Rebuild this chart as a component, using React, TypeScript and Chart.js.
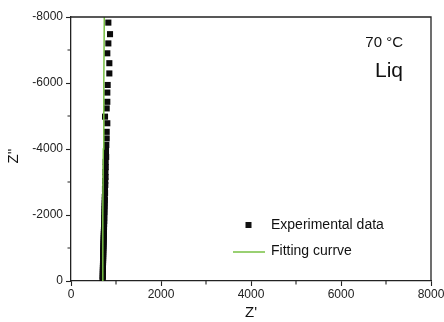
import React, { useEffect, useRef } from 'react';
import { Chart, registerables } from 'chart.js';
Chart.register(...registerables);

// Experimental impedance data (Z', Z'')
const expZre = [
  830, 867, 830, 807, 852, 852, 815, 807, 807, 793, 756, 807, 793, 793,
  785, 778, 782, 770, 772, 765, 768, 760, 762, 755, 757, 750, 752, 746, 748, 742, 744, 740, 738, 739,
  735, 734, 732, 731, 729, 728, 726, 725, 724, 722, 721, 720, 718, 717, 716, 715, 714, 713, 712, 711,
  710, 709, 708, 707, 706, 705, 704, 703,
];
const expZim = [
  -7830, -7480, -7200, -6900, -6600, -6290, -5940, -5710, -5430, -5230, -4980, -4780, -4520, -4320,
  -4120, -3940, -3760, -3610, -3450, -3300, -3150, -3030, -2910, -2790, -2670, -2550, -2450, -2360, -2270, -2180, -2090, -2000, -1910, -1820,
  -1730, -1640, -1550, -1490, -1420, -1360, -1300, -1240, -1180, -1120, -1060, -1000, -940, -880, -820, -760, -700, -640, -580, -520,
  -450, -390, -330, -270, -210, -150, -90, -30,
];
// Fitting curve
const fitZre = [695, 707, 718, 729, 740];
const fitZim = [0, -2000, -4000, -6000, -8000];

const minorTicks = [1000, 3000, 5000, 7000];
const seriesNames = ['Experimental data', 'Fitting currve'];
const axisTitles = ["Z'", "Z''"];
const temperatureLabel = '70 °C';
const sampleLabel = 'Liq';

const FONT = '"Liberation Sans", Arial, sans-serif';
const INK = '#222';
const GREEN = '#77c043';

const overlay = {
  id: 'overlay',
  afterDraw(chart: any) {
    const ctx = chart.ctx;
    const { left, right, top, bottom } = chart.chartArea;
    const xs = chart.scales.x;
    const ys = chart.scales.y;
    ctx.save();
    ctx.strokeStyle = INK;
    ctx.lineWidth = 1.3;
    ctx.beginPath();
    ctx.moveTo(left, top);
    ctx.lineTo(right, top);
    ctx.lineTo(right, bottom);
    ctx.stroke();
    ctx.lineWidth = 1.1;
    ctx.beginPath();
    minorTicks.forEach((v) => {
      const px = xs.getPixelForValue(v);
      ctx.moveTo(px, bottom);
      ctx.lineTo(px, bottom + 3.5);
      const py = ys.getPixelForValue(-v);
      ctx.moveTo(left, py);
      ctx.lineTo(left - 3.5, py);
    });
    ctx.stroke();

    ctx.fillStyle = '#111';
    ctx.textAlign = 'right';
    ctx.textBaseline = 'alphabetic';
    ctx.font = `15px ${FONT}`;
    ctx.fillText(temperatureLabel, 403, 47);
    ctx.font = `21px ${FONT}`;
    ctx.fillText(sampleLabel, 403, 77);

    // legend
    ctx.fillStyle = '#111';
    ctx.fillRect(245.5, 222, 6, 6);
    ctx.strokeStyle = GREEN;
    ctx.lineWidth = 1.5;
    ctx.beginPath();
    ctx.moveTo(233, 252);
    ctx.lineTo(265, 252);
    ctx.stroke();
    ctx.textAlign = 'left';
    ctx.textBaseline = 'middle';
    ctx.font = `14px ${FONT}`;
    ctx.fillText(seriesNames[0], 271, 225);
    ctx.fillText(seriesNames[1], 271, 251);

    // axis titles
    ctx.font = `15px ${FONT}`;
    ctx.textAlign = 'center';
    ctx.fillText(axisTitles[0], (left + right) / 2, 313);
    ctx.save();
    ctx.translate(14, 156);
    ctx.rotate(-Math.PI / 2);
    ctx.fillText(axisTitles[1], 0, 0);
    ctx.restore();
    ctx.restore();
  },
};

export default function App() {
  const ref = useRef<HTMLCanvasElement>(null);
  useEffect(() => {
    document.body.style.margin = '0';
    const canvas = ref.current!;
    const tickFont = { family: FONT, size: 12 };
    const chart = new Chart(canvas, {
      type: 'scatter',
      data: {
        datasets: [
          {
            label: seriesNames[1],
            data: fitZre.map((x, i) => ({ x, y: fitZim[i] })),
            showLine: true,
            borderColor: GREEN,
            borderWidth: 1.5,
            pointRadius: 0,
            order: 0,
          },
          {
            label: seriesNames[0],
            data: expZre.map((x, i) => ({ x, y: expZim[i] })),
            pointStyle: 'rect',
            pointRadius: 4.3,
            backgroundColor: '#0a0a0a',
            borderColor: '#0a0a0a',
            borderWidth: 0,
            order: 1,
          },
        ],
      },
      options: {
        responsive: false,
        animation: false,
        layout: { padding: { left: 0, top: 17, right: 13, bottom: 0 } },
        plugins: { legend: { display: false }, tooltip: { enabled: false } },
        scales: {
          x: {
            type: 'linear',
            position: 'bottom',
            min: 0,
            max: 8000,
            ticks: { stepSize: 2000, font: tickFont, color: INK, padding: 1, maxRotation: 0, callback: (v: any) => String(v) },
            grid: { drawOnChartArea: false, drawTicks: true, tickLength: 5, tickColor: INK, tickWidth: 1.1 },
            border: { color: INK, width: 1.3 },
            afterFit: (s: any) => {
              s.height = 41;
              s.paddingLeft = 0;
              s.paddingRight = 0;
            },
          },
          y: {
            type: 'linear',
            min: -8000,
            max: 0,
            reverse: true,
            ticks: { stepSize: 2000, font: tickFont, color: INK, padding: 3, callback: (v: any) => String(v) },
            grid: { drawOnChartArea: false, drawTicks: true, tickLength: 5, tickColor: INK, tickWidth: 1.1 },
            border: { color: INK, width: 1.3 },
            afterFit: (s: any) => {
              s.width = 71;
              s.paddingTop = 0;
              s.paddingBottom = 0;
            },
          },
        },
      },
      plugins: [overlay],
    });
    return () => chart.destroy();
  }, []);
  return <canvas ref={ref} width={444} height={322} style={{ display: 'block' }} />;
}
